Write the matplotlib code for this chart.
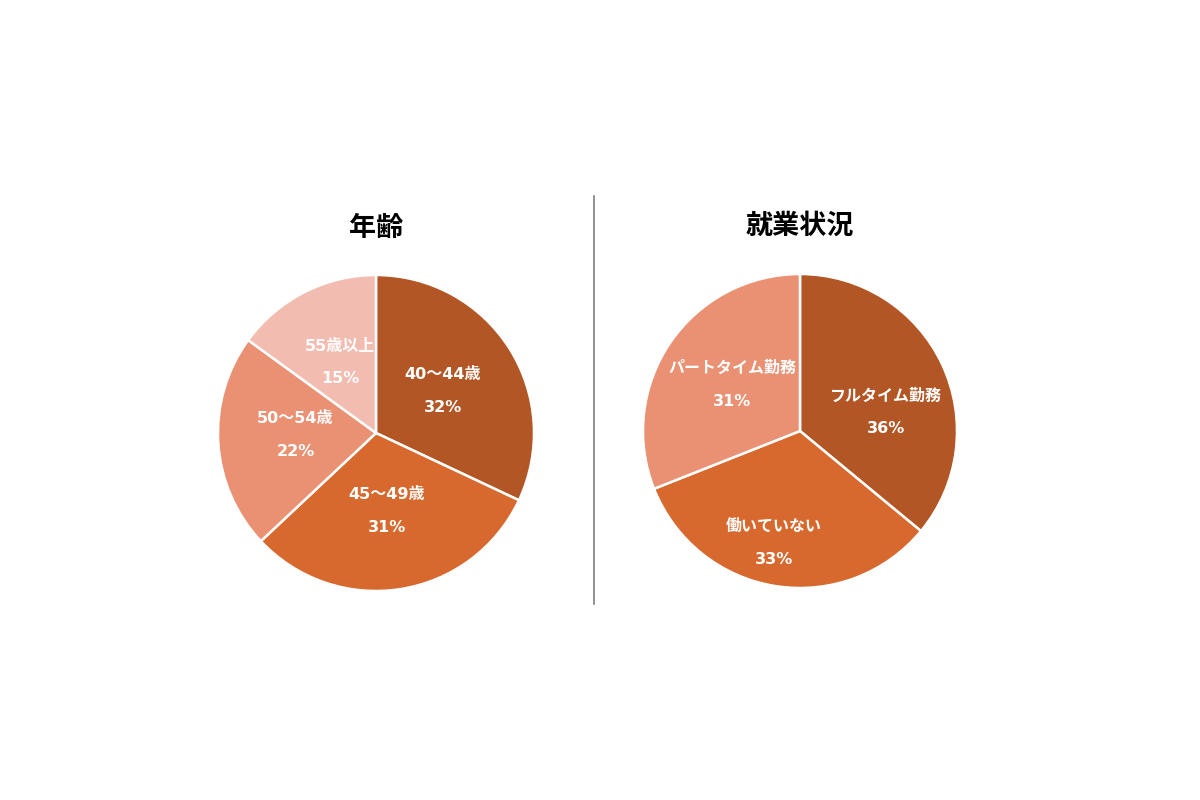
import numpy as np
import matplotlib.pyplot as plt

plt.rcParams['font.family'] = ['Noto Sans CJK JP', 'DejaVu Sans']

# data
age_labels = ['40～44歳', '45～49歳', '50～54歳', '55歳以上']
age_values = [32, 31, 22, 15]
work_labels = ['フルタイム勤務', '働いていない', 'パートタイム勤務']
work_values = [36, 33, 31]

colors4 = ['#B35625', '#D8692E', '#EA9173', '#F2BCB0']
colors3 = ['#B35625', '#D8692E', '#EA9173']

W, H = 1200, 800
fig = plt.figure(figsize=(12, 8), dpi=100)
fig.patch.set_facecolor('white')

lab_font = dict(ha='center', va='center', color='white', fontsize=11.5,
                fontweight='bold', family=['DejaVu Sans', 'Noto Sans CJK JP'],
                textcoords='offset points')


def pie_axes(cx, cy, r):
    # cx, cy, r in pixels (y from top)
    return fig.add_axes([(cx - r) / W, 1 - (cy + r) / H, 2 * r / W, 2 * r / H])


def draw_pie(ax, labels, values, colors, dists, shifts):
    wedges, _ = ax.pie(values, colors=colors, startangle=90, counterclock=False,
                       radius=1, wedgeprops=dict(edgecolor='white', linewidth=1.8))
    for w, lab, v, d, s in zip(wedges, labels, values, dists, shifts):
        ang = np.deg2rad((w.theta1 + w.theta2) / 2 + s)
        xy = (d * np.cos(ang), d * np.sin(ang))
        ax.annotate(lab, xy, xytext=(0, 11.8), **lab_font)
        ax.annotate(f'{v}%', xy, xytext=(0, -11.8), **lab_font)
    ax.set_xlim(-1, 1)
    ax.set_ylim(-1, 1)
    ax.set_aspect('equal')
    ax.axis('off')


ax1 = pie_axes(376, 433, 158)
draw_pie(ax1, age_labels, age_values, colors4,
         [0.5, 0.5, 0.51, 0.5], [0, -1, -2, 0])
ax2 = pie_axes(800, 431, 157)
draw_pie(ax2, work_labels, work_values, colors3,
         [0.56, 0.73, 0.52], [-13, -4, 0])

fig.text(376 / W, 1 - 228 / H, '年齢', ha='center', va='center',
         fontsize=19.5, fontweight='bold', color='black')
fig.text(800 / W, 1 - 226 / H, '就業状況', ha='center', va='center',
         fontsize=19.5, fontweight='bold', color='black')

# separator
fig.add_artist(plt.Line2D([594 / W, 594 / W], [1 - 196 / H, 1 - 604 / H],
                          color='#7f7f7f', linewidth=1.2))

fig.savefig('out.png', dpi=100, facecolor='white')
